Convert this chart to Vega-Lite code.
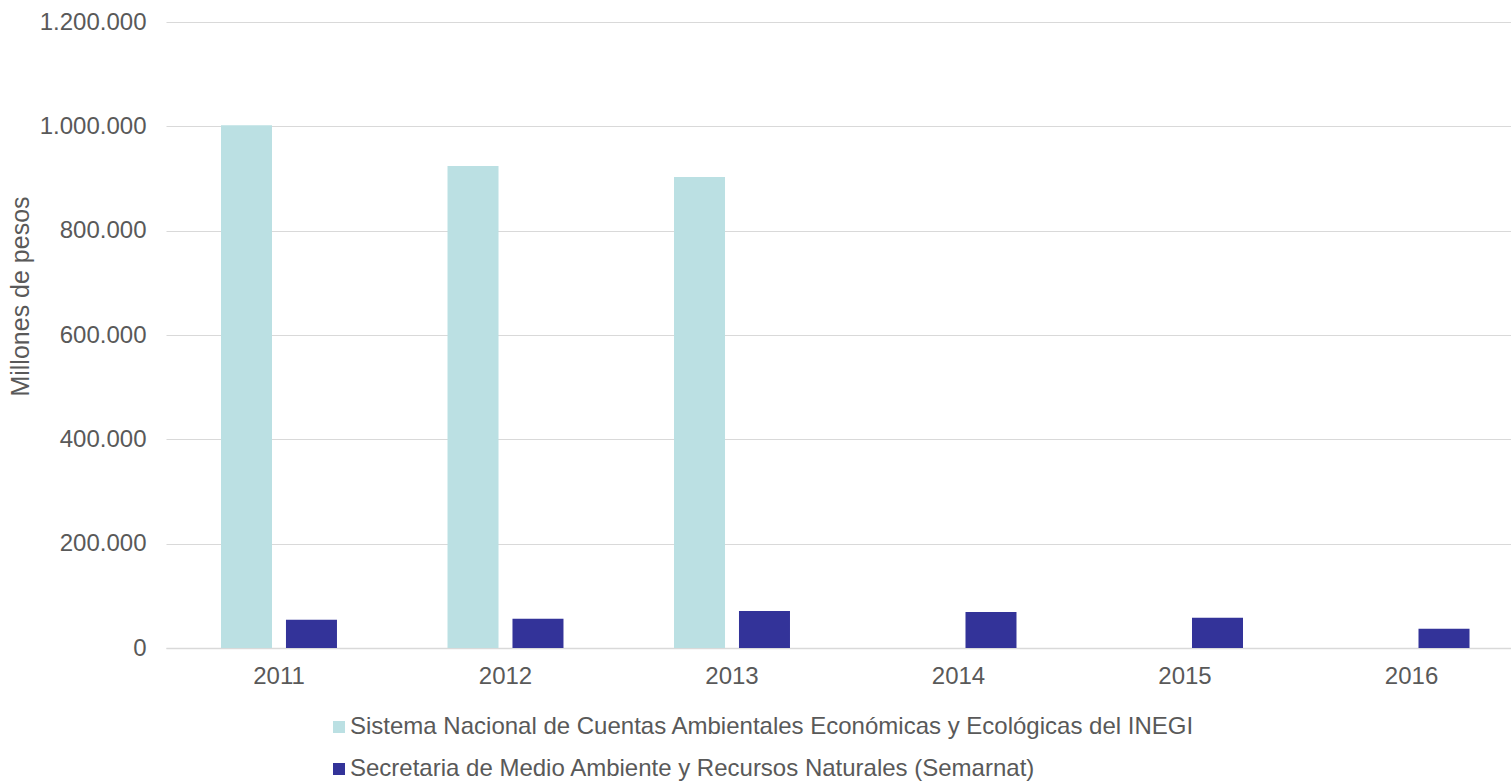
{
  "$schema": "https://vega.github.io/schema/vega-lite/v6.json",
  "width": 1345,
  "height": 626,
  "autosize": {"type": "none"},
  "padding": {"left": 166, "top": 22, "right": 0, "bottom": 133},
  "background": "white",
  "config": {
    "locale": {"number": {"decimal": ",", "thousands": ".", "grouping": [3], "currency": ["$", ""]}},
    "font": "Liberation Sans",
    "view": {"stroke": null}
  },
  "data": {
    "values": [
      {"anio": "2011", "serie": "Sistema Nacional de Cuentas Ambientales Económicas y Ecológicas del INEGI", "valor": 1002000},
      {"anio": "2012", "serie": "Sistema Nacional de Cuentas Ambientales Económicas y Ecológicas del INEGI", "valor": 924000},
      {"anio": "2013", "serie": "Sistema Nacional de Cuentas Ambientales Económicas y Ecológicas del INEGI", "valor": 903000},
      {"anio": "2011", "serie": "Secretaria de Medio Ambiente y Recursos Naturales (Semarnat)", "valor": 54000},
      {"anio": "2012", "serie": "Secretaria de Medio Ambiente y Recursos Naturales (Semarnat)", "valor": 56000},
      {"anio": "2013", "serie": "Secretaria de Medio Ambiente y Recursos Naturales (Semarnat)", "valor": 71000},
      {"anio": "2014", "serie": "Secretaria de Medio Ambiente y Recursos Naturales (Semarnat)", "valor": 69000},
      {"anio": "2015", "serie": "Secretaria de Medio Ambiente y Recursos Naturales (Semarnat)", "valor": 58000},
      {"anio": "2016", "serie": "Secretaria de Medio Ambiente y Recursos Naturales (Semarnat)", "valor": 37000}
    ]
  },
  "mark": {"type": "bar"},
  "encoding": {
    "x": {
      "field": "anio",
      "type": "nominal",
      "scale": {"domain": ["2011", "2012", "2013", "2014", "2015", "2016"], "paddingInner": 0.488, "paddingOuter": 0.213, "align": 0.57},
      "axis": {
        "title": null,
        "labelAngle": 0,
        "labelFontSize": 24,
        "labelColor": "#595959",
        "labelPadding": 16,
        "ticks": false,
        "domain": true,
        "domainColor": "#D9D9D9",
        "domainWidth": 1.5,
        "grid": false
      }
    },
    "xOffset": {
      "field": "serie",
      "type": "nominal",
      "sort": ["Sistema Nacional de Cuentas Ambientales Económicas y Ecológicas del INEGI", "Secretaria de Medio Ambiente y Recursos Naturales (Semarnat)"],
      "scale": {"paddingInner": 0.215, "paddingOuter": 0}
    },
    "y": {
      "field": "valor",
      "type": "quantitative",
      "scale": {"domain": [0, 1200000], "nice": false},
      "axis": {
        "title": "Millones de pesos",
        "titleFontSize": 25,
        "titleFontWeight": "normal",
        "titleColor": "#595959",
        "titlePadding": 6,
        "titleY": 274,
        "values": [0, 200000, 400000, 600000, 800000, 1000000, 1200000],
        "format": ",d",
        "labelFontSize": 24,
        "labelColor": "#595959",
        "labelPadding": 20,
        "ticks": false,
        "domain": false,
        "grid": true,
        "gridColor": "#D9D9D9",
        "gridWidth": 1
      }
    },
    "color": {
      "field": "serie",
      "type": "nominal",
      "scale": {
        "domain": ["Sistema Nacional de Cuentas Ambientales Económicas y Ecológicas del INEGI", "Secretaria de Medio Ambiente y Recursos Naturales (Semarnat)"],
        "range": ["#BBE0E3", "#333399"]
      },
      "legend": {
        "title": null,
        "orient": "none",
        "legendX": 161,
        "legendY": 693,
        "direction": "vertical",
        "symbolType": "square",
        "symbolSize": 144,
        "symbolStrokeWidth": 0,
        "labelFontSize": 24,
        "labelColor": "#595959",
        "labelOffset": -1,
        "labelLimit": 1200,
        "rowPadding": 18
      }
    }
  }
}
